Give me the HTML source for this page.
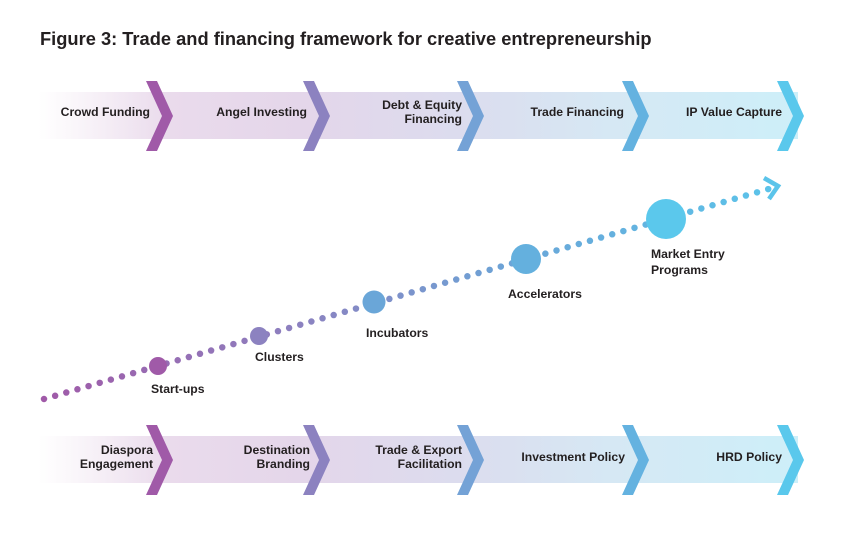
<!DOCTYPE html>
<html><head><meta charset="utf-8"><style>
html,body{margin:0;padding:0;background:#fff;}
svg{display:block;}
text{font-family:"Liberation Sans",Arial,sans-serif;font-weight:bold;fill:#231f20;}
</style></head><body>
<svg width="845" height="554" viewBox="0 0 845 554" xmlns="http://www.w3.org/2000/svg">
<defs>
<linearGradient id="band" x1="38" y1="0" x2="800" y2="0" gradientUnits="userSpaceOnUse">
<stop offset="0" stop-color="#fff"/>
<stop offset="0.04" stop-color="#fbf8fb"/>
<stop offset="0.17" stop-color="#eadbec"/>
<stop offset="0.35" stop-color="#e4d6ea"/>
<stop offset="0.55" stop-color="#dcdcee"/>
<stop offset="0.75" stop-color="#d6e8f4"/>
<stop offset="1" stop-color="#cdeff9"/>
</linearGradient>
<linearGradient id="dot" x1="44" y1="0" x2="780" y2="0" gradientUnits="userSpaceOnUse">
<stop offset="0" stop-color="#a05aa8"/>
<stop offset="0.35" stop-color="#8c82c0"/>
<stop offset="0.65" stop-color="#6aa6d8"/>
<stop offset="1" stop-color="#5bc4ea"/>
</linearGradient>
</defs>
<text x="40" y="45" font-size="18.3">Figure 3: Trade and financing framework for creative entrepreneurship</text>

<rect x="38" y="92" width="760" height="47" fill="url(#band)"/>
<g>
<polygon points="146,81 157,81 173,116 157,151 146,151 162,116" fill="#a05aa8"/>
<polygon points="303,81 314,81 330,116 314,151 303,151 319,116" fill="#8c82c0"/>
<polygon points="457,81 468,81 484,116 468,151 457,151 473,116" fill="#74a2d6"/>
<polygon points="622,81 633,81 649,116 633,151 622,151 638,116" fill="#64b2e0"/>
<polygon points="777,81 788,81 804,116 788,151 777,151 793,116" fill="#5ac8ec"/>
</g>
<g font-size="12.2" text-anchor="end">
<text x="150" y="116">Crowd Funding</text>
<text x="307" y="116">Angel Investing</text>
<text x="462" y="109">Debt &amp; Equity</text>
<text x="462" y="123">Financing</text>
<text x="624" y="116">Trade Financing</text>
<text x="782" y="116">IP Value Capture</text>
</g>

<rect x="38" y="436" width="760" height="47" fill="url(#band)"/>
<g>
<polygon points="146,425 157,425 173,460 157,495 146,495 162,460" fill="#a05aa8"/>
<polygon points="303,425 314,425 330,460 314,495 303,495 319,460" fill="#8c82c0"/>
<polygon points="457,425 468,425 484,460 468,495 457,495 473,460" fill="#74a2d6"/>
<polygon points="622,425 633,425 649,460 633,495 622,495 638,460" fill="#64b2e0"/>
<polygon points="777,425 788,425 804,460 788,495 777,495 793,460" fill="#5ac8ec"/>
</g>
<g font-size="12.2" text-anchor="end">
<text x="153" y="454">Diaspora</text>
<text x="153" y="468">Engagement</text>
<text x="310" y="454">Destination</text>
<text x="310" y="468">Branding</text>
<text x="462" y="454">Trade &amp; Export</text>
<text x="462" y="468">Facilitation</text>
<text x="625" y="461">Investment Policy</text>
<text x="782" y="461">HRD Policy</text>
</g>

<line x1="44" y1="399" x2="772" y2="188" stroke="url(#dot)" stroke-width="6.5" stroke-linecap="round" stroke-dasharray="0 11.6"/>
<polyline points="764,178 778,186 769,199" fill="none" stroke="#5bc4ea" stroke-width="4.5"/>
<circle cx="158" cy="366" r="9" fill="#a05aa8"/>
<circle cx="259" cy="336" r="9" fill="#8c82c0"/>
<circle cx="374" cy="302" r="11.5" fill="#6aa6d8"/>
<circle cx="526" cy="259" r="15" fill="#64b0de"/>
<circle cx="666" cy="219" r="20" fill="#5bc8ec"/>
<g font-size="12.2">
<text x="151" y="393">Start-ups</text>
<text x="255" y="361">Clusters</text>
<text x="366" y="337">Incubators</text>
<text x="508" y="298">Accelerators</text>
<text x="651" y="258">Market Entry</text>
<text x="651" y="274">Programs</text>
</g>
</svg>
</body></html>
